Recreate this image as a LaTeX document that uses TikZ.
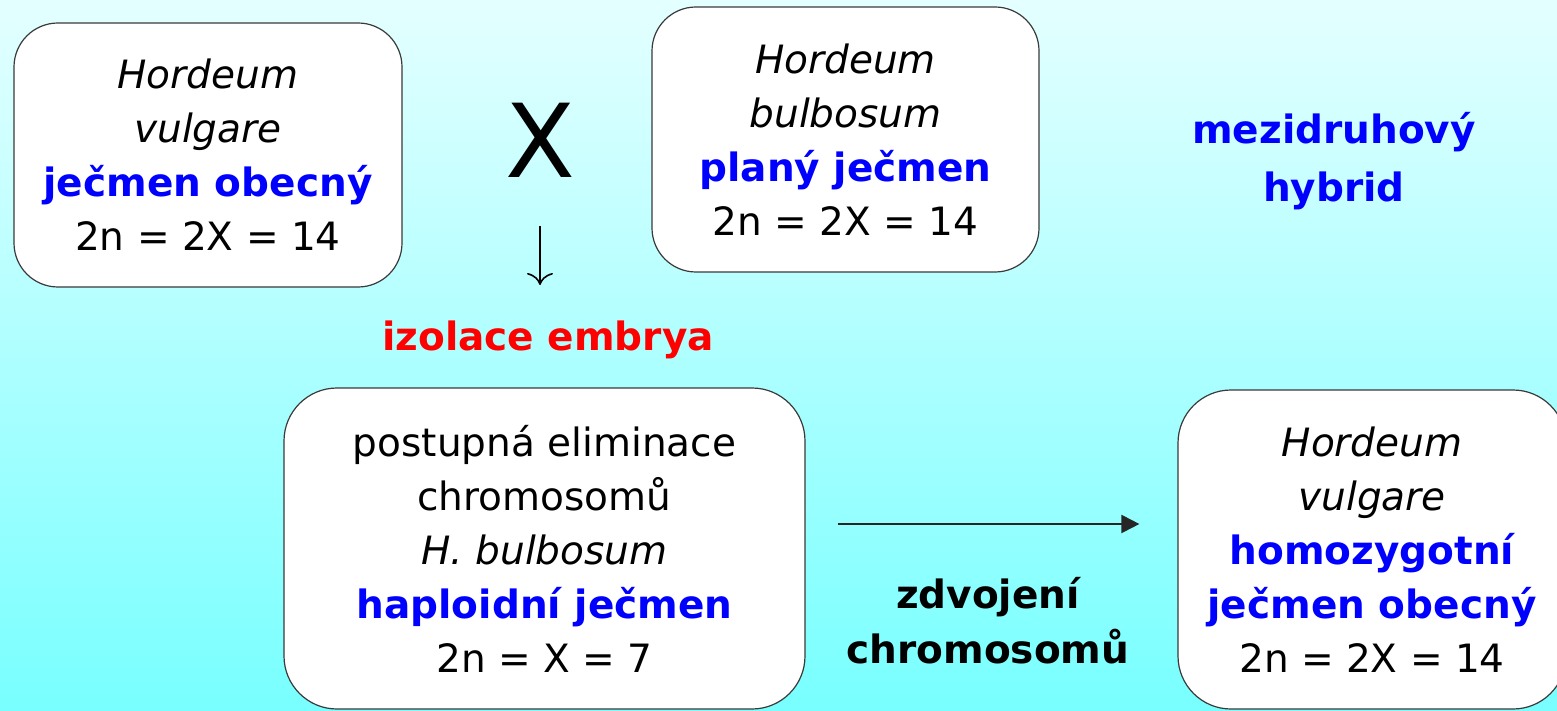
\documentclass[tikz,border=0pt]{standalone}
\usepackage{fontspec}
\setmainfont{DejaVu Sans}
\usetikzlibrary{arrows.meta}
\definecolor{bgtop}{HTML}{E4FFFF}
\definecolor{bgbot}{HTML}{78FFFF}
\definecolor{txtblue}{HTML}{0000FF}
\definecolor{txtred}{HTML}{FF0000}
\definecolor{boxline}{HTML}{3A3A3A}
\tikzset{
  txt/.style={inner sep=0pt, align=center, font=\fontsize{19.5pt}{27pt}\selectfont},
  card/.style={txt, draw=boxline, line width=0.6pt, fill=white},
  bluebold/.style={text=txtblue, font=\fontsize{19.5pt}{29pt}\selectfont\bfseries},
  flow/.style={line width=1pt, draw=black!85},
}
\begin{document}
\begin{tikzpicture}[x=0.5pt, y=-0.5pt]
\useasboundingbox (0,0) rectangle (1557,711);
\shade[top color=bgtop, bottom color=bgbot] (0,0) rectangle (1557,711);

\node[card, rounded corners=22pt, minimum width=194pt, minimum height=132pt] (vulg) at (208,155)
  {\itshape Hordeum\\ \itshape vulgare\\ {\color{txtblue}\bfseries ječmen obecný}\\ 2n = 2X = 14};
\node[card, rounded corners=22pt, minimum width=193.5pt, minimum height=132.5pt] (bulb) at (845.5,139.5)
  {\itshape Hordeum\\ \itshape bulbosum\\ {\color{txtblue}\bfseries planý ječmen}\\ 2n = 2X = 14};
\node[txt, font=\fontsize{51pt}{51pt}\selectfont] (cross) at (540,140) {X};

\coordinate (dtop) at (540,226);
\coordinate (dbot) at (540,285);
\draw[line width=0.8pt, -{To[length=6pt,width=13pt]}] (dtop) -- (dbot);

\node[txt, anchor=base, text=txtred, font=\fontsize{19.5pt}{27pt}\selectfont\bfseries] (izol) at (548,350) {izolace embrya};

\node[txt, bluebold] (mezi) at (1334,161) {mezidruhový\\hybrid};

\node[card, rounded corners=26.5pt, minimum width=260.5pt, minimum height=160.5pt] (post) at (544.5,548.5)
  {postupná eliminace\\ chromosomů\\ \itshape H. bulbosum\\ {\color{txtblue}\bfseries haploidní ječmen}\\ 2n = X = 7};
\node[card, rounded corners=26.5pt, minimum width=194pt, minimum height=159.5pt] (homo) at (1372,549.5)
  {\itshape Hordeum\\ \itshape vulgare\\ {\color{txtblue}\bfseries homozygotní}\\ {\color{txtblue}\bfseries ječmen obecný}\\ 2n = 2X = 14};

\coordinate (arry) at (0,524);
\draw[flow, -{Triangle[length=9pt,width=9pt]}, shorten <=16pt, shorten >=19pt]
  (post.east |- arry) -- (homo.west |- arry);

\node[txt, font=\fontsize{19.5pt}{27.5pt}\selectfont\bfseries] (zdvo) at (988,621) {zdvojení\\chromosomů};
\end{tikzpicture}
\end{document}
